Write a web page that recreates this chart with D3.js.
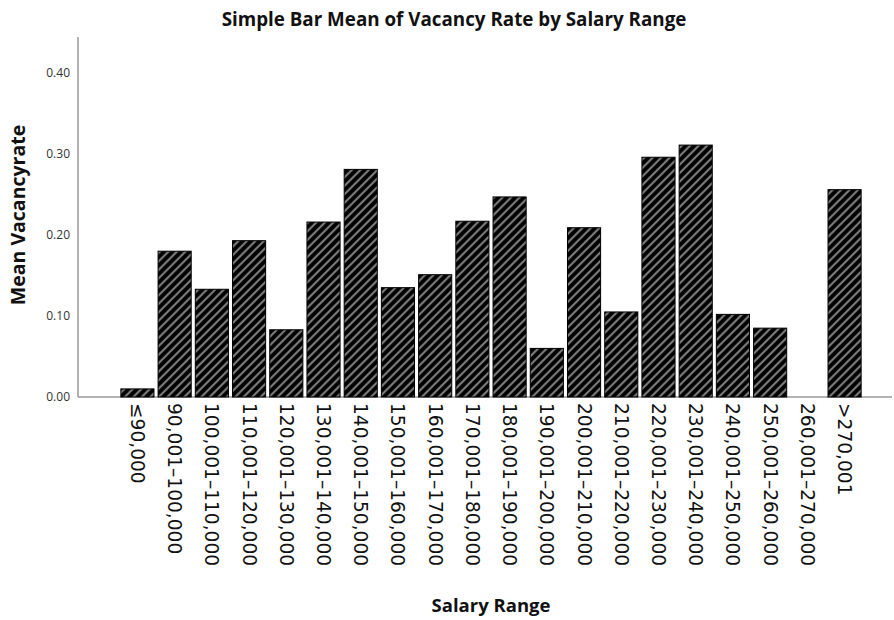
<!DOCTYPE html>
<html>
<head>
<meta charset="utf-8">
<script src="https://cdn.jsdelivr.net/npm/d3@7"></script>
<style>
body { margin: 0; background: #fff; }
</style>
</head>
<body>
<svg class="chart"></svg>
<script>
var categories = ["≤90,000", "90,001–100,000", "100,001–110,000", "110,001–120,000",
	"120,001–130,000", "130,001–140,000", "140,001–150,000", "150,001–160,000",
	"160,001–170,000", "170,001–180,000", "180,001–190,000", "190,001–200,000",
	"200,001–210,000", "210,001–220,000", "220,001–230,000", "230,001–240,000",
	"240,001–250,000", "250,001–260,000", "260,001–270,000", ">270,001"];
var values = [0.010, 0.180, 0.133, 0.193, 0.083, 0.216, 0.281, 0.135, 0.151, 0.217,
	0.247, 0.060, 0.209, 0.105, 0.296, 0.311, 0.102, 0.085, 0, 0.256];
var yTicks = [0, 0.1, 0.2, 0.3, 0.4];

var width = 894, height = 620;
var data = categories.map((c, i) => ({name: c, value: values[i]}));

var svg = d3.select(".chart").attr("width", width).attr("height", height);

// hatch pattern
var pat = svg.append("defs").append("pattern")
	.attr("id", "hatch")
	.attr("patternUnits", "userSpaceOnUse")
	.attr("width", 6).attr("height", 6)
	.attr("patternTransform", "rotate(45)");
pat.append("rect").attr("width", 6).attr("height", 6).attr("fill", "#000");
pat.append("line").attr("x1", 3).attr("x2", 3).attr("y1", 0).attr("y2", 6)
	.attr("stroke", "#7a7a7a").attr("stroke-width", 2.2);

var axisX = 78;

x = d3.scaleBand()
	.domain(categories)
	.range([119, 119 + 20 * 37.2])
	.paddingInner(0.11)
	.paddingOuter(0.05)

y = d3.scaleLinear()
	.domain([0, 0.4])
	.range([397, 73])

// y axis line
svg.append("line")
	.attr("x1", axisX).attr("x2", axisX)
	.attr("y1", 37).attr("y2", y(0))
	.attr("stroke", "#999").attr("stroke-width", 1.5);
// x baseline
svg.append("line")
	.attr("x1", axisX).attr("x2", 892)
	.attr("y1", y(0)).attr("y2", y(0))
	.attr("stroke", "#999").attr("stroke-width", 1.5);

svg.append("g")
	.selectAll("text").data(yTicks).enter().append("text")
		.attr("x", 70)
		.attr("y", d => y(d))
		.attr("dy", "0.35em")
		.attr("text-anchor", "end")
		.attr("font-family", "Open Sans, sans-serif")
		.attr("font-size", 12)
		.attr("fill", "#333")
		.text(d => d3.format(".2f")(d));

svg.append("g")
	.selectAll("rect").data(data.filter(d => d.value > 0)).enter().append("rect")
		.attr("x", d => x(d.name))
		.attr("y", d => y(d.value))
		.attr("width", x.bandwidth())
		.attr("height", d => y(0) - y(d.value))
		.attr("fill", "url(#hatch)")
		.attr("stroke", "#000")
		.attr("stroke-width", 1);

// category labels rotated
svg.append("g")
	.selectAll("text").data(categories).enter().append("text")
		.attr("transform", d => `translate(${x(d) + x.bandwidth() / 2},403) rotate(90)`)
		.attr("dy", "0.35em")
		.attr("font-family", "DejaVu Sans, sans-serif")
		.attr("font-size", 18.6)
		.attr("fill", "#111")
		.text(d => d);

svg.append("text")
	.attr("x", 454).attr("y", 26)
	.attr("text-anchor", "middle")
	.attr("font-family", "Open Sans, sans-serif")
	.attr("font-weight", "bold")
	.attr("font-size", 18.8)
	.attr("fill", "#111")
	.text("Simple Bar Mean of Vacancy Rate by Salary Range");

svg.append("text")
	.attr("transform", "translate(25,215) rotate(-90)")
	.attr("text-anchor", "middle")
	.attr("font-family", "Open Sans, sans-serif")
	.attr("font-weight", "bold")
	.attr("font-size", 19.5)
	.attr("fill", "#111")
	.text("Mean Vacancyrate");

svg.append("text")
	.attr("x", 491).attr("y", 612)
	.attr("text-anchor", "middle")
	.attr("font-family", "Open Sans, sans-serif")
	.attr("font-weight", "bold")
	.attr("font-size", 18.5)
	.attr("fill", "#111")
	.text("Salary Range");
</script>
</body>
</html>
